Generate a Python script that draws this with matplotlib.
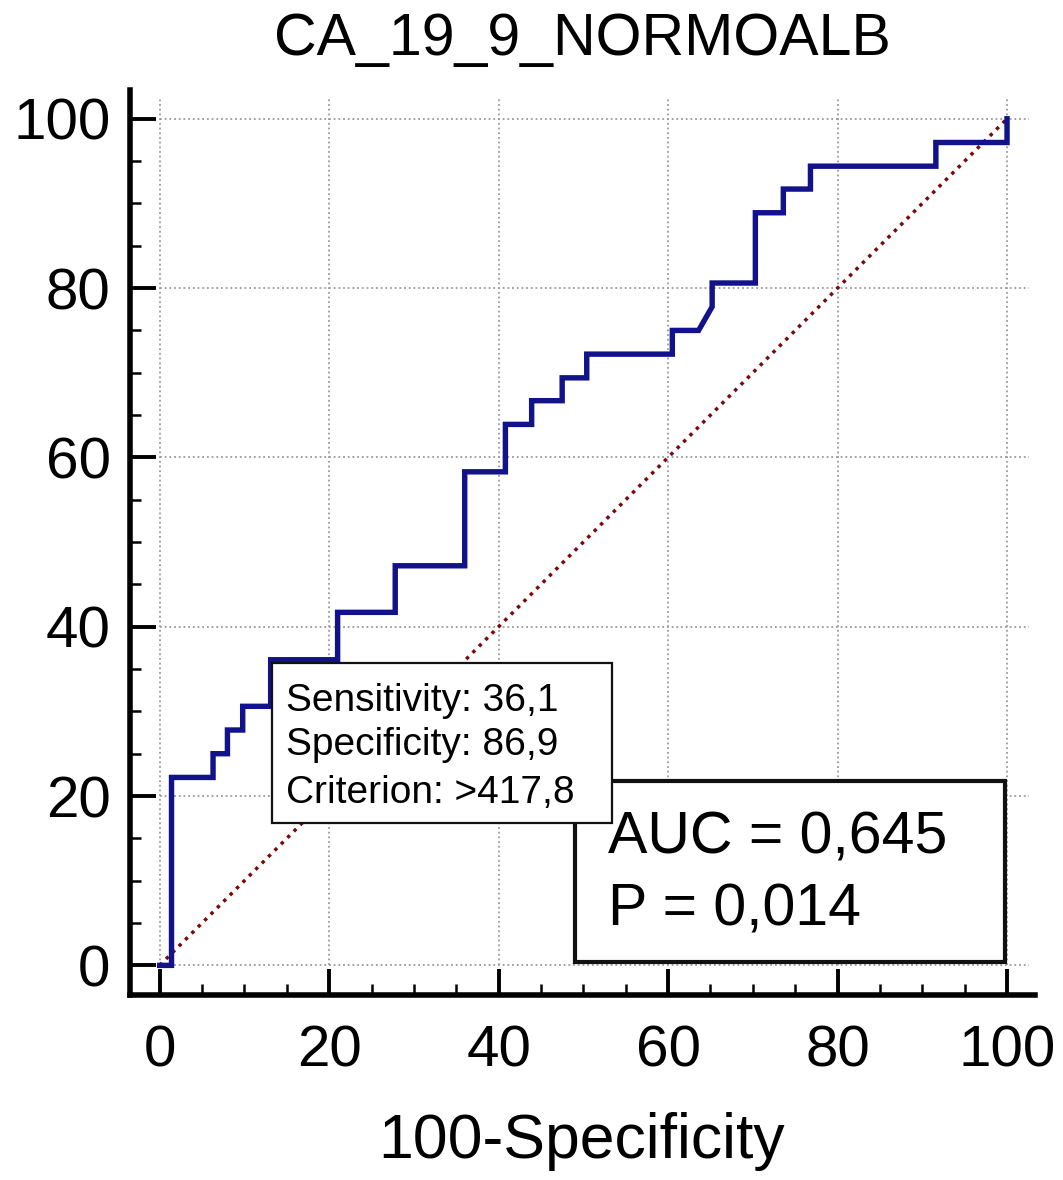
import numpy as np
import matplotlib
matplotlib.use("Agg")
import matplotlib.pyplot as plt
from matplotlib.patches import Rectangle

plt.rcParams['font.family'] = ['Liberation Sans', 'DejaVu Sans']

# ROC curve vertices (100-Specificity, Sensitivity)
fpr = [0, 1.4, 1.4, 6.3, 6.3, 8.0, 8.0, 9.8, 9.8, 13.1, 13.1, 21.0, 21.0,
       27.8, 27.8, 36.0, 36.0, 40.8, 40.8, 43.9, 43.9, 47.5, 47.5, 50.4,
       50.4, 60.5, 60.5, 63.6, 65.2, 65.2, 70.3, 70.3, 73.6, 73.6, 76.8,
       76.8, 91.6, 91.6, 100, 100]
tpr = [0, 0, 22.2, 22.2, 25.0, 25.0, 27.8, 27.8, 30.6, 30.6, 36.1, 36.1,
       41.7, 41.7, 47.2, 47.2, 58.3, 58.3, 63.9, 63.9, 66.7, 66.7, 69.4,
       69.4, 72.2, 72.2, 75.0, 75.0, 77.8, 80.6, 80.6, 88.9, 88.9, 91.7,
       91.7, 94.4, 94.4, 97.2, 97.2, 100]

major_ticks = [0, 20, 40, 60, 80, 100]
minor_ticks = np.arange(0, 101, 5)

title = "CA_19_9_NORMOALB"
xlabel = "100-Specificity"
point_lines = ["Sensitivity: 36,1", "Specificity: 86,9", "Criterion: >417,8"]
auc_lines = ["AUC = 0,645", "P = 0,014"]

fig = plt.figure(figsize=(10.63, 11.8), dpi=100)
ax = fig.add_axes([130 / 1063, 185 / 1180, 905 / 1063, 905 / 1180])
ax.set_xlim(-3.5, 103.3)
ax.set_ylim(-3.5, 103.4)

# grid only over the data range
grid_kw = dict(color='#9a9a9a', lw=1.3, linestyle=(0, (1, 1.6)), zorder=1)
for t in major_ticks:
    ax.plot([t, t], [0, 102.6], **grid_kw)
    ax.plot([0, 102.6], [t, t], **grid_kw)

# chance line
ax.plot([0, 100], [0, 100], color='#7A0A0A', lw=2.5,
        linestyle=(0, (1, 1.6)), zorder=2)

# ROC
ax.plot(fpr, tpr, color='#12128A', lw=3.9, solid_joinstyle='miter', zorder=3)

# AUC box
ax.add_patch(Rectangle((49.0, 0.35), 50.8, 21.45, facecolor='white',
                       edgecolor='#111111', lw=3.0, zorder=4))
ax.text(52.9, 13.2, auc_lines[0], fontsize=42.5, va='baseline', zorder=5)
ax.text(52.9, 4.7, auc_lines[1], fontsize=42.5, va='baseline', zorder=5)

# criterion box
ax.add_patch(Rectangle((13.2, 16.8), 40.2, 18.9, facecolor='white',
                       edgecolor='#111111', lw=1.6, zorder=6))
for txt, yb in zip(point_lines, [30.1, 24.9, 19.2]):
    ax.text(14.9, yb, txt, fontsize=28, va='baseline', zorder=7)

for s in ['top', 'right']:
    ax.spines[s].set_visible(False)
for s in ['left', 'bottom']:
    ax.spines[s].set_linewidth(4)

ax.set_xticks(major_ticks)
ax.set_yticks(major_ticks)
ax.set_xticks(minor_ticks, minor=True)
ax.set_yticks(minor_ticks, minor=True)
ax.tick_params(which='major', direction='in', length=19, width=2.8,
               labelsize=42)
ax.tick_params(which='minor', direction='in', length=8, width=1.8)
ax.tick_params(axis='x', which='major', pad=21.5)
ax.tick_params(axis='y', which='major', pad=14)

fig.text(582 / 1063, 1 - 55 / 1180, title, fontsize=42.5, ha='center',
         va='baseline')
fig.text(582 / 1063, 1 - 1158 / 1180, xlabel, fontsize=45, ha='center',
         va='baseline')

fig.savefig("out.png", dpi=100)
